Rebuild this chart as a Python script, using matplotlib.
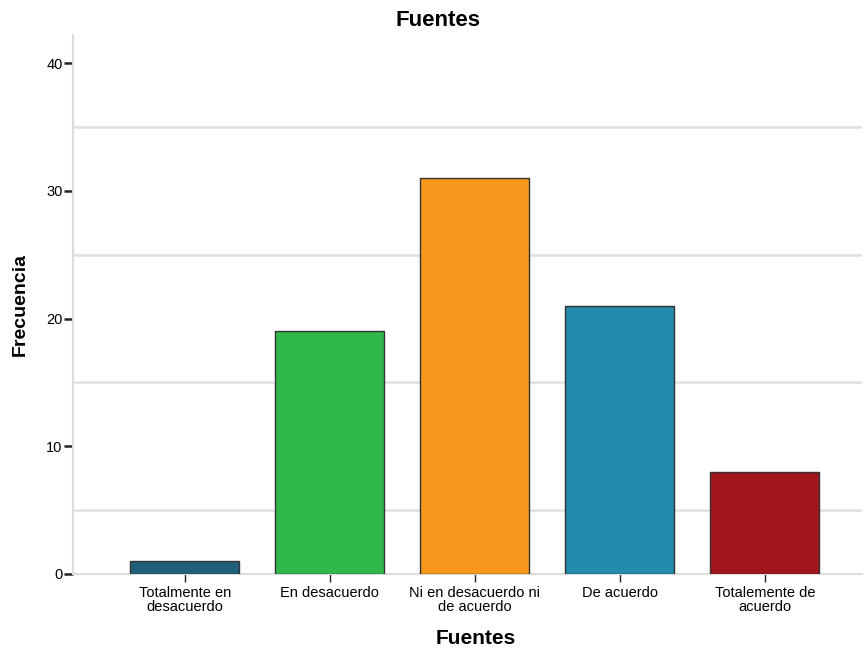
import matplotlib.pyplot as plt
import numpy as np

plt.rcParams['font.family'] = ['Liberation Sans', 'DejaVu Sans']

categorias = ['Totalmente en\ndesacuerdo', 'En desacuerdo', 'Ni en desacuerdo ni\nde acuerdo',
              'De acuerdo', 'Totalemente de\nacuerdo']
frecuencias = [1, 19, 31, 21, 8]
colores = ['#1f5f78', '#30b84a', '#f7981d', '#248bac', '#a0161b']

fig = plt.figure(figsize=(8.66, 6.51), dpi=100)
ax = fig.add_axes([0.0843, 0.1183, 0.9111, 0.8277])

x = np.arange(len(categorias))
ax.bar(x, frecuencias, width=0.75, color=colores, edgecolor='#333333', linewidth=1.0, zorder=3)

# grid lines only at the half steps
for y in [5, 15, 25, 35]:
    ax.axhline(y, color='#e0e0e0', linewidth=1.8, zorder=1)

ax.set_xlim(-0.77, 4.67)
ax.set_ylim(0, 42.2)
ax.set_yticks([0, 10, 20, 30, 40])
ax.set_xticks(x)
ax.set_xticklabels(categorias, fontsize=10.5, linespacing=0.95)
ax.tick_params(axis='y', length=6.5, width=1.8, color='#222222', labelsize=10.5, pad=1)
ax.tick_params(axis='x', length=6, width=1.0, color='#222222', pad=3)

for s in ['top', 'right']:
    ax.spines[s].set_visible(False)
for s in ['left', 'bottom']:
    ax.spines[s].set_color('#dcdcdc')
    ax.spines[s].set_linewidth(1.5)

fig.text(438 / 866, 1 - 20 / 651, 'Fuentes', ha='center', va='center', fontsize=16, fontweight='bold')
fig.text(476 / 866, 1 - 639 / 651, 'Fuentes', ha='center', va='center', fontsize=15, fontweight='bold')
fig.text(20 / 866, 1 - 304 / 651, 'Frecuencia', ha='center', va='center', rotation=90,
         fontsize=14, fontweight='bold')

fig.savefig('out.png', dpi=100)
